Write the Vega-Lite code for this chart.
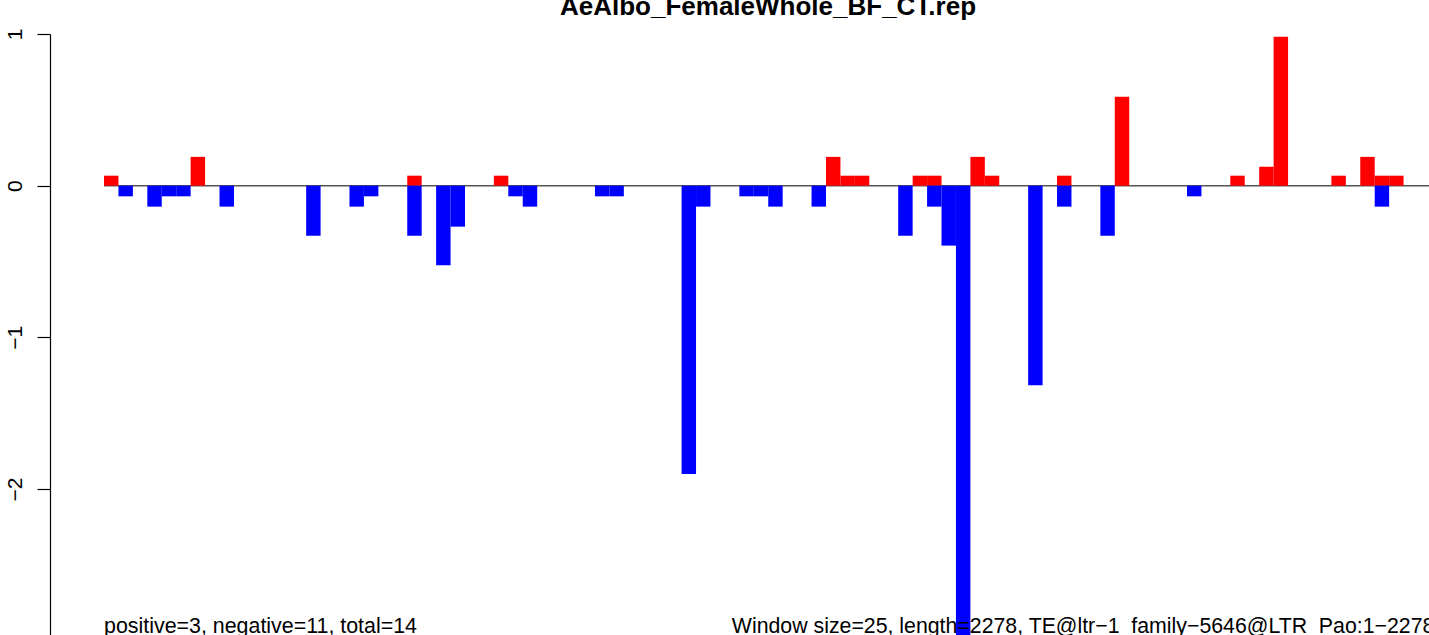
{
  "$schema": "https://vega.github.io/schema/vega-lite/v6.json",
  "width": 1379,
  "height": 601,
  "autosize": {"type": "none"},
  "padding": {"left": 50, "top": 34, "right": 0, "bottom": 0},
  "background": "white",
  "config": {"view": {"stroke": null}},
  "data": {"values": [{"note": "annotation"}]},
  "datasets": {
    "bars": [
      {"window": 0, "start": 0, "end": 25, "value": 0.066, "sign": "positive"},
      {"window": 6, "start": 150, "end": 175, "value": 0.19, "sign": "positive"},
      {"window": 21, "start": 525, "end": 550, "value": 0.066, "sign": "positive"},
      {"window": 27, "start": 675, "end": 700, "value": 0.066, "sign": "positive"},
      {"window": 50, "start": 1250, "end": 1275, "value": 0.19, "sign": "positive"},
      {"window": 51, "start": 1275, "end": 1300, "value": 0.066, "sign": "positive"},
      {"window": 52, "start": 1300, "end": 1325, "value": 0.066, "sign": "positive"},
      {"window": 56, "start": 1400, "end": 1425, "value": 0.066, "sign": "positive"},
      {"window": 57, "start": 1425, "end": 1450, "value": 0.066, "sign": "positive"},
      {"window": 60, "start": 1500, "end": 1525, "value": 0.19, "sign": "positive"},
      {"window": 61, "start": 1525, "end": 1550, "value": 0.066, "sign": "positive"},
      {"window": 66, "start": 1650, "end": 1675, "value": 0.066, "sign": "positive"},
      {"window": 70, "start": 1750, "end": 1775, "value": 0.587, "sign": "positive"},
      {"window": 78, "start": 1950, "end": 1975, "value": 0.066, "sign": "positive"},
      {"window": 80, "start": 2000, "end": 2025, "value": 0.125, "sign": "positive"},
      {"window": 81, "start": 2025, "end": 2050, "value": 0.982, "sign": "positive"},
      {"window": 85, "start": 2125, "end": 2150, "value": 0.066, "sign": "positive"},
      {"window": 87, "start": 2175, "end": 2200, "value": 0.19, "sign": "positive"},
      {"window": 88, "start": 2200, "end": 2225, "value": 0.066, "sign": "positive"},
      {"window": 89, "start": 2225, "end": 2250, "value": 0.066, "sign": "positive"},
      {"window": 1, "start": 25, "end": 50, "value": -0.07, "sign": "negative"},
      {"window": 3, "start": 75, "end": 100, "value": -0.138, "sign": "negative"},
      {"window": 4, "start": 100, "end": 125, "value": -0.07, "sign": "negative"},
      {"window": 5, "start": 125, "end": 150, "value": -0.07, "sign": "negative"},
      {"window": 8, "start": 200, "end": 225, "value": -0.138, "sign": "negative"},
      {"window": 14, "start": 350, "end": 375, "value": -0.33, "sign": "negative"},
      {"window": 17, "start": 425, "end": 450, "value": -0.138, "sign": "negative"},
      {"window": 18, "start": 450, "end": 475, "value": -0.07, "sign": "negative"},
      {"window": 21, "start": 525, "end": 550, "value": -0.33, "sign": "negative"},
      {"window": 23, "start": 575, "end": 600, "value": -0.525, "sign": "negative"},
      {"window": 24, "start": 600, "end": 625, "value": -0.27, "sign": "negative"},
      {"window": 28, "start": 700, "end": 725, "value": -0.07, "sign": "negative"},
      {"window": 29, "start": 725, "end": 750, "value": -0.138, "sign": "negative"},
      {"window": 34, "start": 850, "end": 875, "value": -0.07, "sign": "negative"},
      {"window": 35, "start": 875, "end": 900, "value": -0.07, "sign": "negative"},
      {"window": 40, "start": 1000, "end": 1025, "value": -1.9, "sign": "negative"},
      {"window": 41, "start": 1025, "end": 1050, "value": -0.138, "sign": "negative"},
      {"window": 44, "start": 1100, "end": 1125, "value": -0.07, "sign": "negative"},
      {"window": 45, "start": 1125, "end": 1150, "value": -0.07, "sign": "negative"},
      {"window": 46, "start": 1150, "end": 1175, "value": -0.138, "sign": "negative"},
      {"window": 49, "start": 1225, "end": 1250, "value": -0.138, "sign": "negative"},
      {"window": 55, "start": 1375, "end": 1400, "value": -0.33, "sign": "negative"},
      {"window": 57, "start": 1425, "end": 1450, "value": -0.138, "sign": "negative"},
      {"window": 58, "start": 1450, "end": 1475, "value": -0.395, "sign": "negative"},
      {"window": 59, "start": 1475, "end": 1500, "value": -3.0, "sign": "negative"},
      {"window": 64, "start": 1600, "end": 1625, "value": -1.316, "sign": "negative"},
      {"window": 66, "start": 1650, "end": 1675, "value": -0.138, "sign": "negative"},
      {"window": 69, "start": 1725, "end": 1750, "value": -0.33, "sign": "negative"},
      {"window": 75, "start": 1875, "end": 1900, "value": -0.07, "sign": "negative"},
      {"window": 88, "start": 2200, "end": 2225, "value": -0.138, "sign": "negative"}
    ]
  },
  "layer": [
    {
      "mark": {"type": "rule", "color": "#555555", "strokeWidth": 1.5},
      "encoding": {
        "x": {"datum": 0, "type": "quantitative", "scale": {"domain": [-93.5, 2294], "nice": false, "zero": false}, "axis": null},
        "x2": {"datum": 2294},
        "y": {"datum": 0, "type": "quantitative", "scale": {"domain": [-2.9618, 1], "nice": false, "zero": false}}
      }
    },
    {
      "data": {"name": "bars"},
      "mark": {"type": "bar", "clip": true},
      "encoding": {
        "x": {"field": "start", "type": "quantitative", "scale": {"domain": [-93.5, 2294], "nice": false, "zero": false}, "axis": null},
        "x2": {"field": "end"},
        "y": {
          "field": "value",
          "type": "quantitative",
          "stack": null,
          "scale": {"domain": [-2.9618, 1], "nice": false, "zero": false},
          "axis": {
            "values": [1, 0, -1, -2, -3],
            "format": "d",
            "title": null,
            "grid": false,
            "domainColor": "black",
            "domainWidth": 1.2,
            "tickColor": "black",
            "tickWidth": 1.2,
            "tickSize": 13,
            "labelAngle": -90,
            "labelAlign": "center",
            "labelBaseline": "alphabetic",
            "labelPadding": 16,
            "labelFont": "Liberation Sans",
            "labelFontSize": 21,
            "labelColor": "black",
            "labelOverlap": false,
            "labelBound": false,
            "labelFlush": false
          }
        },
        "y2": {"datum": 0},
        "color": {
          "field": "sign",
          "type": "nominal",
          "scale": {"domain": ["positive", "negative"], "range": ["#FF0000", "#0000FF"]},
          "legend": null
        }
      }
    },
    {
      "mark": {"type": "text", "align": "center", "baseline": "alphabetic", "font": "Liberation Sans", "fontSize": 26, "fontWeight": "bold", "color": "black"},
      "encoding": {
        "x": {"datum": 1149.6, "type": "quantitative", "scale": {"domain": [-93.5, 2294], "nice": false, "zero": false}, "axis": null},
        "y": {"datum": 1.1285, "type": "quantitative", "scale": {"domain": [-2.9618, 1], "nice": false, "zero": false}},
        "text": {"value": "AeAlbo_FemaleWhole_BF_CT.rep"}
      }
    },
    {
      "mark": {"type": "text", "align": "left", "baseline": "alphabetic", "font": "Liberation Sans", "fontSize": 21.4, "color": "black"},
      "encoding": {
        "x": {"datum": 0, "type": "quantitative", "scale": {"domain": [-93.5, 2294], "nice": false, "zero": false}, "axis": null},
        "y": {"datum": -2.948, "type": "quantitative", "scale": {"domain": [-2.9618, 1], "nice": false, "zero": false}},
        "text": {"value": "positive=3, negative=11, total=14"}
      }
    },
    {
      "mark": {"type": "text", "align": "left", "baseline": "alphabetic", "font": "Liberation Sans", "fontSize": 21.3, "color": "black"},
      "encoding": {
        "x": {"datum": 1087, "type": "quantitative", "scale": {"domain": [-93.5, 2294], "nice": false, "zero": false}, "axis": null},
        "y": {"datum": -2.948, "type": "quantitative", "scale": {"domain": [-2.9618, 1], "nice": false, "zero": false}},
        "text": {"value": "Window size=25, length=2278, TE@ltr−1_family−5646@LTR_Pao:1−2278"}
      }
    }
  ]
}
